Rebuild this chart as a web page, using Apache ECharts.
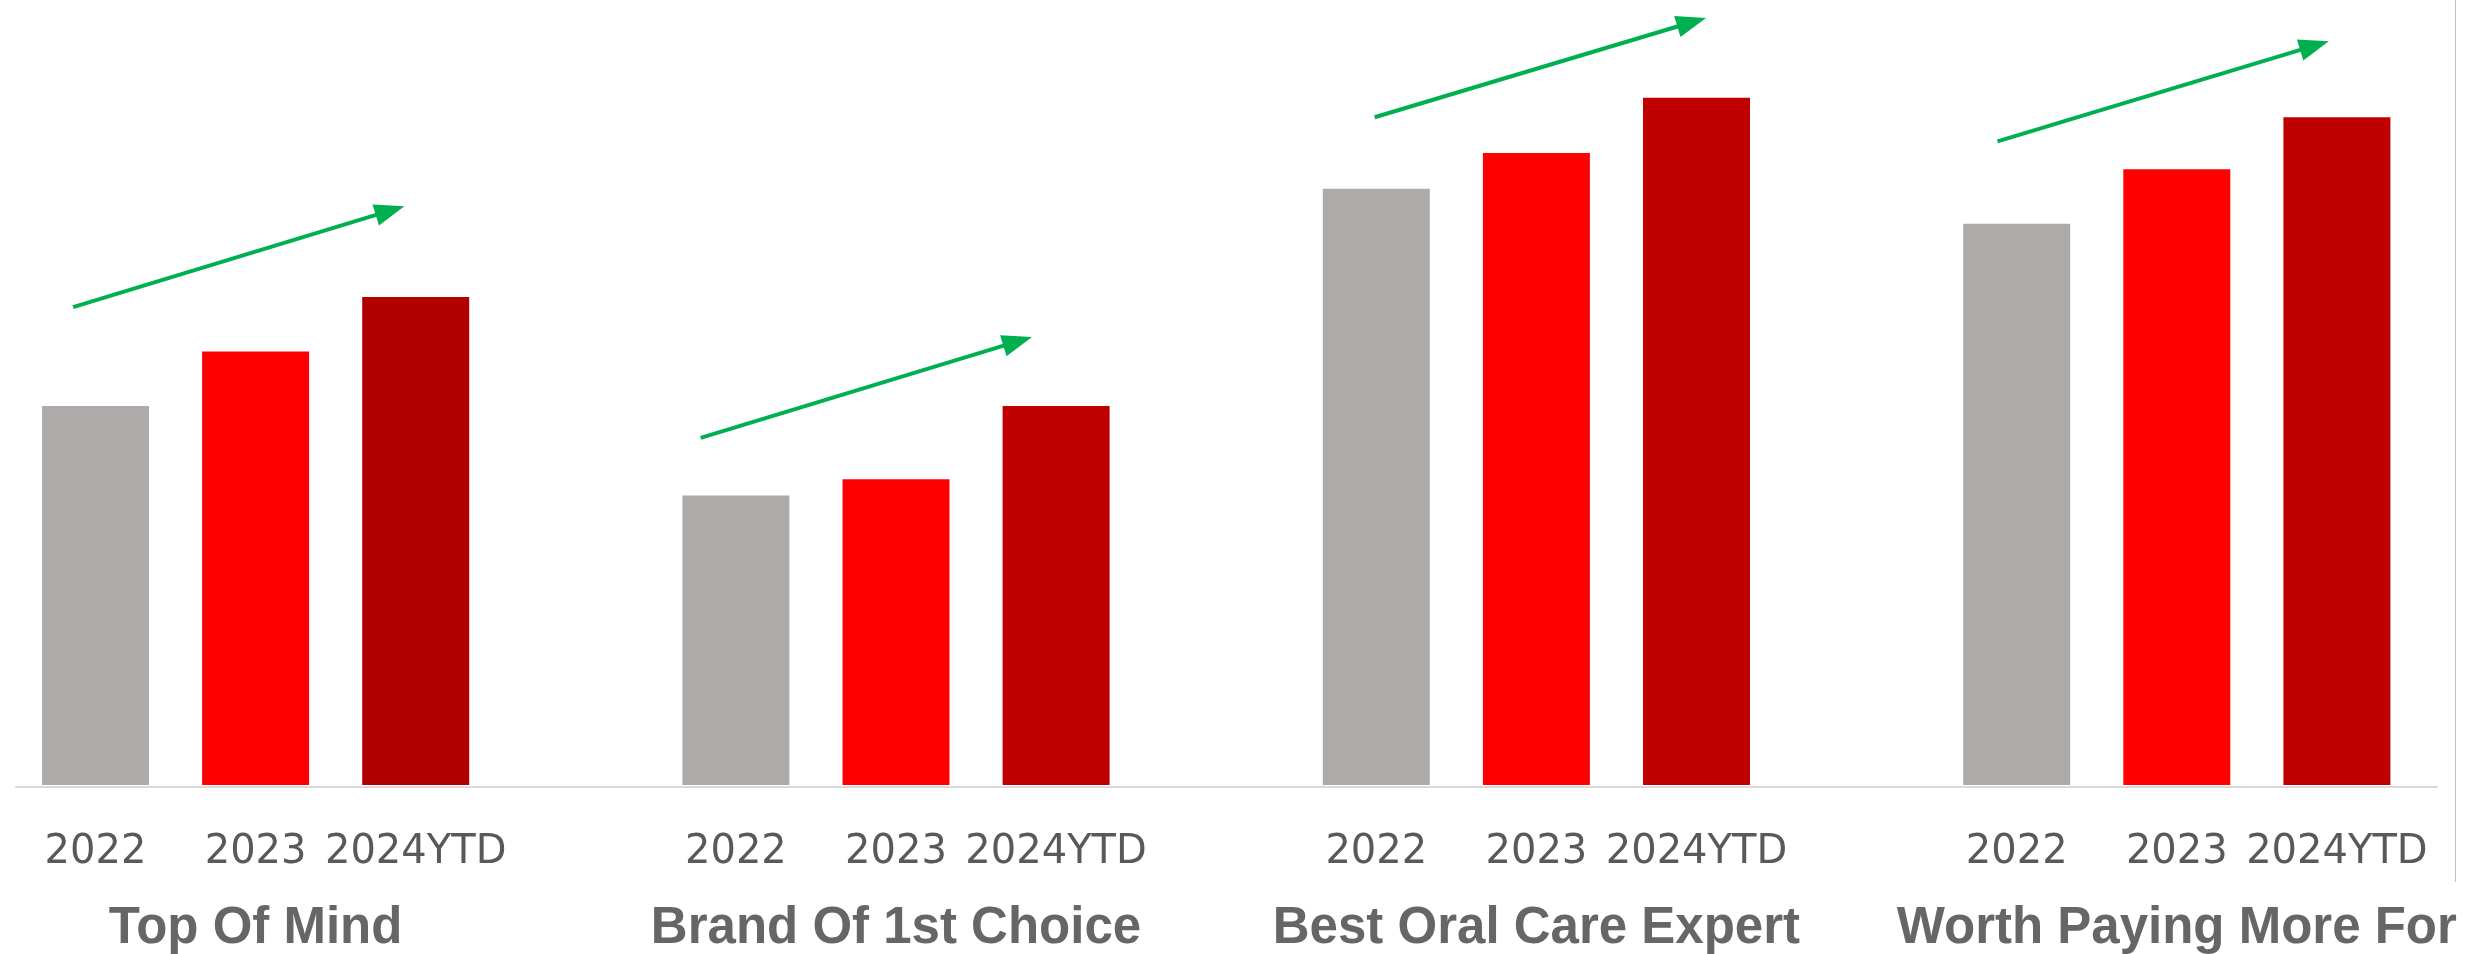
<!DOCTYPE html>
<html>
<head>
<meta charset="utf-8">
<title>Brand health 2022 - 2024YTD</title>
<script src="https://cdn.jsdelivr.net/npm/echarts@6.0.0/dist/echarts.min.js"></script>
<style>
  html, body { margin: 0; padding: 0; background: #fff; }
  #chart { width: 2482px; height: 954px; }
</style>
</head>
<body>
<div id="chart"></div>
<script>
// data (no axis scale shown, values as % of a 0-100 axis)
var groups = ['Top Of Mind', 'Brand Of 1st Choice', 'Best Oral Care Expert', 'Worth Paying More For'];
var years = ['2022', '2023', '2024YTD'];
var values2022 = [48.7, 37.2, 76.6, 72.1];
var values2023 = [55.7, 39.3, 81.2, 79.1];
var values2024 = [62.7, 48.7, 88.3, 85.8];

// trend arrows, [slot, value] on the same axes as the bars (end = middle of the head)
var arrowFrom = [[-0.14, 61.4], [3.78, 44.6], [7.99, 85.8], [11.88, 82.7]];
var arrowTo = [[1.84, 73.8], [5.76, 57.0], [9.97, 98.0], [13.86, 95.0]];

(function () {
  var yearColors = ['#AEAAAA', '#FF0000', '#C00000'];
  var firstDark = '#B00000';

  // one category slot per bar, one empty slot between groups
  var yearLabels = [];
  var groupLabels = [];
  var barData = [];
  groups.forEach(function (g, gi) {
    var vals = [values2022[gi], values2023[gi], values2024[gi]];
    years.forEach(function (y, yi) {
      yearLabels.push(y);
      groupLabels.push(yi === 1 ? g : '');
      var c = yearColors[yi];
      if (yi === 2 && gi === 0) c = firstDark;
      barData.push({ value: vals[yi], itemStyle: { color: c } });
    });
    if (gi < groups.length - 1) {
      yearLabels.push('');
      groupLabels.push('');
      barData.push('-');
    }
  });
  var n = yearLabels.length;

  var chart = echarts.init(document.getElementById('chart'), null, { renderer: 'canvas' });
  chart.setOption({
    animation: false,
    backgroundColor: '#ffffff',
    grid: [
      { left: 15.45, right: 65.05, top: 6.7, bottom: 167.3 },
      { left: 16, right: 45, top: 6.7, bottom: 167.3 }
    ],
    xAxis: [
      {
        type: 'category', gridIndex: 0, data: yearLabels,
        axisLine: { show: false }, axisTick: { show: false },
        axisLabel: {
          interval: 0, margin: 48, color: '#595959',
          fontFamily: 'DejaVu Sans', fontSize: 40
        }
      },
      {
        type: 'category', gridIndex: 0, position: 'bottom', data: groupLabels,
        axisLine: { show: false }, axisTick: { show: false },
        axisLabel: {
          interval: 0, margin: 118, color: '#666666',
          fontFamily: 'Liberation Sans, Arial, sans-serif', fontWeight: 'bold', fontSize: 51
        }
      },
      {
        type: 'value', gridIndex: 0, min: -0.5, max: n - 0.5, show: false
      },
      {
        // baseline under the bars
        type: 'value', gridIndex: 1, min: 0, max: 1,
        axisLine: { show: true, onZero: false, lineStyle: { color: '#D9D9D9', width: 2 } },
        axisTick: { show: false }, axisLabel: { show: false }, splitLine: { show: false }
      }
    ],
    yAxis: [
      { type: 'value', gridIndex: 0, min: 0, max: 100, show: false },
      { type: 'value', gridIndex: 1, min: 0, max: 100, show: false }
    ],
    series: [
      {
        type: 'bar', xAxisIndex: 0, yAxisIndex: 0,
        barWidth: 107, data: barData, silent: true
      },
      {
        type: 'line', xAxisIndex: 2, yAxisIndex: 0, data: [],
        markLine: {
          silent: true,
          symbol: ['none', 'triangle'],
          symbolSize: [22, 30],
          label: { show: false },
          lineStyle: { color: '#00B050', width: 4, type: 'solid' },
          data: arrowFrom.map(function (p, i) {
            return [{ coord: p }, { coord: arrowTo[i] }];
          })
        }
      }
    ],
    graphic: [
      {
        type: 'line', silent: true,
        shape: { x1: 2455.5, y1: 0, x2: 2455.5, y2: 882 },
        style: { stroke: '#BFBFBF', lineWidth: 1 }
      }
    ]
  });
})();
</script>
</body>
</html>
